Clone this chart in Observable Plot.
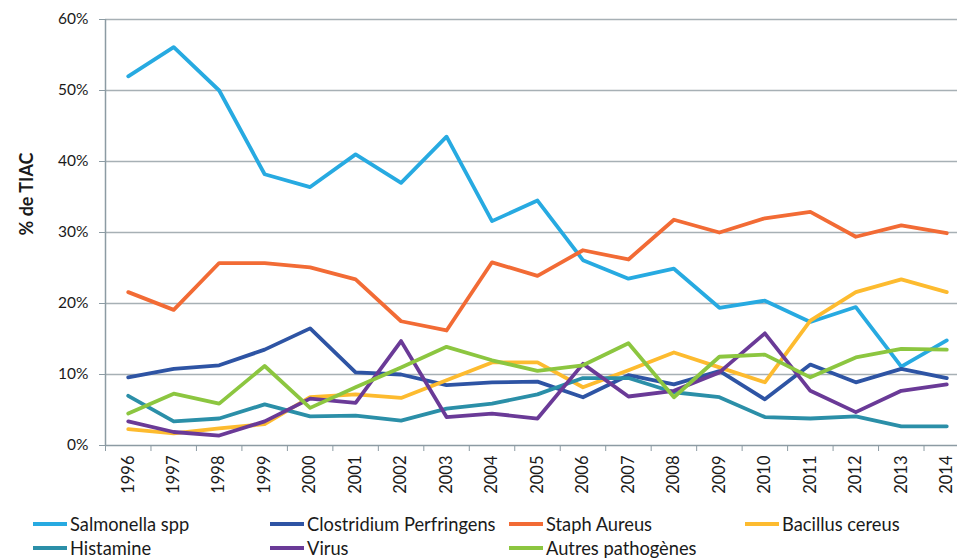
<!DOCTYPE html>
<html>
<head>
<meta charset="utf-8">
<script src="https://cdn.jsdelivr.net/npm/d3@7"></script>
<script src="https://cdn.jsdelivr.net/npm/@observablehq/plot@0.6"></script>
<style>
  html, body { margin: 0; padding: 0; background: #fff; }
  #wrap { position: relative; width: 957px; height: 559px; overflow: hidden; font-family: Lato, "Open Sans", sans-serif; }
  #legend { position: absolute; left: 0; top: 505px; width: 957px; height: 54px; }
  .item { position: absolute; display: flex; align-items: center; font-size: 18.3px; color: #1a1a1a; white-space: nowrap; }
  .sw { width: 34px; height: 3.5px; margin-right: 3px; }
</style>
</head>
<body>
<div id="wrap">
  <div id="chart"></div>
  <div id="legend"></div>
</div>
<script>
const years = [1996,1997,1998,1999,2000,2001,2002,2003,2004,2005,2006,2007,2008,2009,2010,2011,2012,2013,2014];
const seriesNames = ["Salmonella spp","Clostridium Perfringens","Staph Aureus","Bacillus cereus","Histamine","Virus","Autres pathogènes"];
const seriesColors = ["#27AAE1","#2E54A4","#F26B35","#FDBB2F","#2B8FA8","#6A3A97","#8CC640"];

const salmonella  = [52.0,56.1,50.0,38.2,36.4,41.0,37.0,43.5,31.6,34.5,26.1,23.5,24.9,19.4,20.4,17.4,19.5,11.1,14.8];
const clostridium = [9.6,10.8,11.3,13.5,16.5,10.3,10.0,8.5,8.9,9.0,6.8,9.9,8.6,10.5,6.5,11.4,8.9,10.8,9.5];
const staph       = [21.6,19.1,25.7,25.7,25.1,23.4,17.5,16.2,25.8,23.9,27.5,26.2,31.8,30.0,32.0,32.9,29.4,31.0,29.9];
const bacillus    = [2.3,1.7,2.4,3.0,6.8,7.2,6.7,9.2,11.7,11.7,8.2,10.6,13.1,11.0,8.9,17.6,21.6,23.4,21.6];
const histamine   = [7.0,3.4,3.8,5.8,4.1,4.2,3.5,5.2,5.9,7.2,9.5,9.5,7.5,6.8,4.0,3.8,4.1,2.7,2.7];
const virus       = [3.4,1.9,1.4,3.4,6.6,6.0,14.7,4.0,4.5,3.8,11.5,6.9,7.7,10.3,15.8,7.7,4.7,7.7,8.6];
const autres      = [4.5,7.3,5.9,11.2,5.3,8.2,11.0,13.9,12.0,10.5,11.3,14.4,6.8,12.5,12.8,9.6,12.4,13.6,13.5];

const yTicks = [0,10,20,30,40,50,60];

const seriesValues = [salmonella, clostridium, staph, bacillus, histamine, virus, autres];
const long = [];
seriesNames.forEach((name, i) => {
  years.forEach((yr, j) => long.push({series: name, year: yr, value: seriesValues[i][j]}));
});
const boundaries = years.slice(1).map(y => y - 0.5).concat([years[0] - 0.5]);

const gridColor = "#A7B0B5";
const axisColor = "#8C9BA3";
const font = "Lato, 'Open Sans', sans-serif";

const chart = Plot.plot({
  width: 957,
  height: 505,
  marginLeft: 105,
  marginRight: 0,
  marginTop: 19,
  marginBottom: 60,
  style: {fontFamily: font, background: "#fff", color: "#1a1a1a"},
  x: {type: "linear", domain: [1995.5, 2014.5], range: [105, 969]},
  y: {domain: [0, 60], range: [445, 19]},
  color: {domain: seriesNames, range: seriesColors},
  marks: [
    Plot.ruleY(yTicks.filter(d => d > 0), {stroke: gridColor, strokeWidth: 1.3}),
    Plot.ruleX([1995.5], {y1: 0, y2: 60, stroke: axisColor, strokeWidth: 1.5}),
    Plot.ruleY([0], {stroke: axisColor, strokeWidth: 1.5}),
    Plot.axisY({ticks: yTicks, tickSize: 6, tickPadding: 11, stroke: axisColor, fill: "#1a1a1a",
                tickFormat: d => d + "%", fontSize: 15.5, label: null}),
    Plot.axisX({anchor: "bottom", ticks: boundaries, tickSize: 6, stroke: axisColor, tickFormat: () => "", label: null}),
    Plot.axisX({anchor: "bottom", ticks: years, tickSize: 0, tickPadding: 10, tickRotate: -90, fontSize: 16.5,
                fill: "#1a1a1a", tickFormat: d => String(d), label: null}),
    Plot.text(["% de TIAC"], {frameAnchor: "left", dx: -78, dy: 3, rotate: -90, fontSize: 18, fontWeight: "bold", fill: "#1a1a1a"}),
    Plot.line(long, {x: "year", y: "value", z: "series", stroke: "series", strokeWidth: 3.8,
                     strokeLinejoin: "round", strokeLinecap: "round"})
  ]
});
document.getElementById("chart").appendChild(chart);

const legendPos = [[33,524],[270,524],[509,524],[745,524],[33,548],[270,548],[509,548]];
const legend = document.getElementById("legend");
seriesNames.forEach((name, i) => {
  const it = document.createElement("div");
  it.className = "item";
  it.style.left = legendPos[i][0] + "px";
  it.style.top = (legendPos[i][1] - 505 - 11) + "px";
  it.style.height = "22px";
  const sw = document.createElement("span");
  sw.className = "sw";
  sw.style.background = seriesColors[i];
  const tx = document.createElement("span");
  tx.textContent = name;
  it.appendChild(sw); it.appendChild(tx);
  legend.appendChild(it);
});
</script>
</body>
</html>
